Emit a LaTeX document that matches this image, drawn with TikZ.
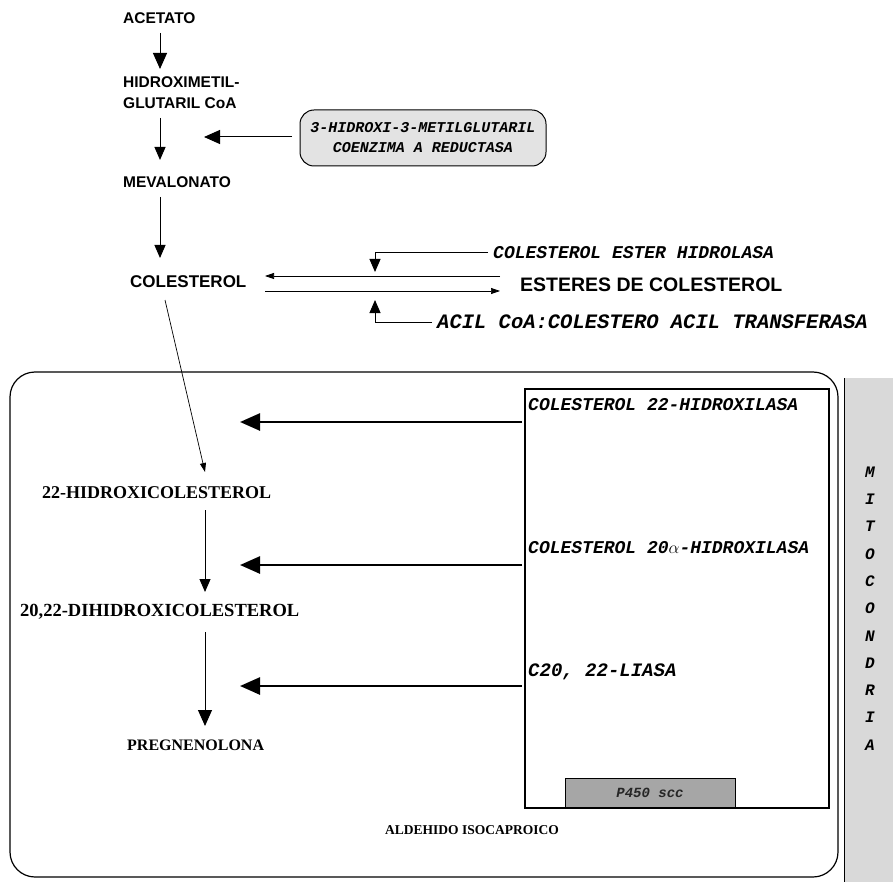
\documentclass[tikz,border=0pt]{standalone}
\usepackage{fontspec}
\setmainfont{Liberation Serif}
\newfontfamily\sansf{Liberation Sans}
\newfontfamily\monof{Liberation Mono}
\usetikzlibrary{arrows.meta}
\begin{document}
\begin{tikzpicture}[x=1pt,y=-1pt,
  lab/.style={inner sep=0pt, anchor=west, font=\sansf\bfseries\fontsize{15.5}{18}\selectfont},
  tlab/.style={inner sep=0pt, anchor=west, font=\bfseries\fontsize{18}{20}\selectfont},
  enz/.style={inner sep=0pt, anchor=west, font=\monof\bfseries\itshape\fontsize{18}{20}\selectfont},
  arrbig/.style={line width=1pt, -{Triangle[length=16pt,width=14pt]}},
  arrmid/.style={line width=1pt, -{Triangle[length=13pt,width=11pt]}},
  arrthin/.style={line width=0.7pt, -{Triangle[length=9pt,width=6pt]}},
  arrenz/.style={line width=2.6pt, -{Triangle[length=20pt,width=17pt]}},
  frame/.style={draw, line width=1.2pt},
]
\useasboundingbox (0,0) rectangle (893,882);

% frames
\draw[frame, rounded corners=25pt] (10,372) rectangle (838,877);
\draw[frame] (525,389) rectangle (829,808);
\fill[gray!30] (844,378) rectangle (893,882);
\draw[line width=1pt] (844,378) -- (844,882);
\node[draw, line width=1pt, fill=gray!70, minimum width=170pt, minimum height=29pt, inner sep=0pt,
  font=\monof\bfseries\itshape\fontsize{14}{16}\selectfont, text=black!85] (p450) at (650,793) {P450 scc};

% labels
\node[lab] (acetato) at (123,18) {ACETATO};
\node[lab] (hmg1) at (123,82) {HIDROXIMETIL-};
\node[lab] (hmg2) at (123,103) {GLUTARIL CoA};
\node[lab] (meva) at (123,182) {MEVALONATO};
\node[lab, font=\sansf\bfseries\fontsize{17}{20}\selectfont] (col) at (130,282) {COLESTEROL};
\node[lab, font=\sansf\bfseries\fontsize{19.5}{22}\selectfont] (est) at (520,285) {ESTERES DE COLESTEROL};

\node[draw, line width=1pt, fill=gray!22, rounded corners=14pt, minimum width=246pt, minimum height=56pt,
  inner sep=0pt, align=center, font=\monof\bfseries\itshape\fontsize{15}{20}\selectfont] (hmgr) at (423,138)
  {3-HIDROXI-3-METILGLUTARIL\\COENZIMA A REDUCTASA};

\node[enz] (ceh) at (493,253) {COLESTEROL ESTER HIDROLASA};
\node[enz, font=\monof\bfseries\itshape\fontsize{20.5}{22}\selectfont] (acat) at (437,322) {ACIL CoA:COLESTERO ACIL TRANSFERASA};

\node[tlab] (h22) at (42,493) {22-HIDROXICOLESTEROL};
\node[tlab, font=\bfseries\fontsize{18.5}{20}\selectfont] (dh) at (20,612) {20,22-DIHIDROXICOLESTEROL};
\node[tlab, font=\bfseries\fontsize{16}{18}\selectfont] (preg) at (127,745) {PREGNENOLONA};
\node[tlab, font=\bfseries\fontsize{13.5}{16}\selectfont] (ald) at (385,830) {ALDEHIDO ISOCAPROICO};

\node[enz] (e1) at (528,405) {COLESTEROL 22-HIDROXILASA};
\node[enz] (e2) at (528,548) {COLESTEROL 20$\alpha$-HIDROXILASA};
\node[enz, font=\monof\bfseries\itshape\fontsize{19}{22}\selectfont] (e3) at (528,672) {C20, 22-LIASA};

% mitocondria letters
\foreach \l [count=\i from 0] in {M,I,T,O,C,O,N,D,R,I,A}
  \node[inner sep=0pt, font=\monof\bfseries\itshape\fontsize{16}{16}\selectfont] (m\i) at (870,472+27.3*\i) {\l};

% main pathway arrows
\coordinate (c1) at (160,33);
\coordinate (c2) at (160,69);
\draw[arrbig] (c1) -- (c2);
\coordinate (c3) at (160,118);
\coordinate (c4) at (160,160);
\draw[arrmid] (c3) -- (c4);
\coordinate (c5) at (160,197);
\coordinate (c6) at (160,258);
\draw[arrmid] (c5) -- (c6);
\coordinate (r1) at (292,137);
\coordinate (r2) at (204,137);
\draw[arrbig] (r1) -- (r2);

% colesterol <-> esteres
\coordinate (u1) at (500,276);
\coordinate (u2) at (265,276);
\coordinate (l1) at (265,291);
\coordinate (l2) at (500,291);
\draw[arrthin] (u1) -- (u2);
\draw[arrthin] (l1) -- (l2);
\coordinate (h1) at (488,253);
\coordinate (h2) at (375,272);
\draw[arrmid] (h1) -| (h2);
\coordinate (a1) at (432,322);
\coordinate (a2) at (375,300);
\draw[arrmid] (a1) -| (a2);

% into mitochondria
\coordinate (s1) at (165,300);
\coordinate (s2) at (205,472);
\draw[arrthin] (s1) -- (s2);
\coordinate (d1) at (205,510);
\coordinate (d2) at (205,592);
\draw[arrmid] (d1) -- (d2);
\coordinate (d3) at (205,632);
\coordinate (d4) at (205,726);
\draw[arrbig] (d3) -- (d4);

% enzyme arrows
\coordinate (e1s) at (522,422);
\coordinate (e1t) at (240,422);
\draw[arrenz] (e1s) -- (e1t);
\coordinate (e2s) at (522,565);
\coordinate (e2t) at (240,565);
\draw[arrenz] (e2s) -- (e2t);
\coordinate (e3s) at (522,686);
\coordinate (e3t) at (240,686);
\draw[arrenz] (e3s) -- (e3t);
\end{tikzpicture}
\end{document}
